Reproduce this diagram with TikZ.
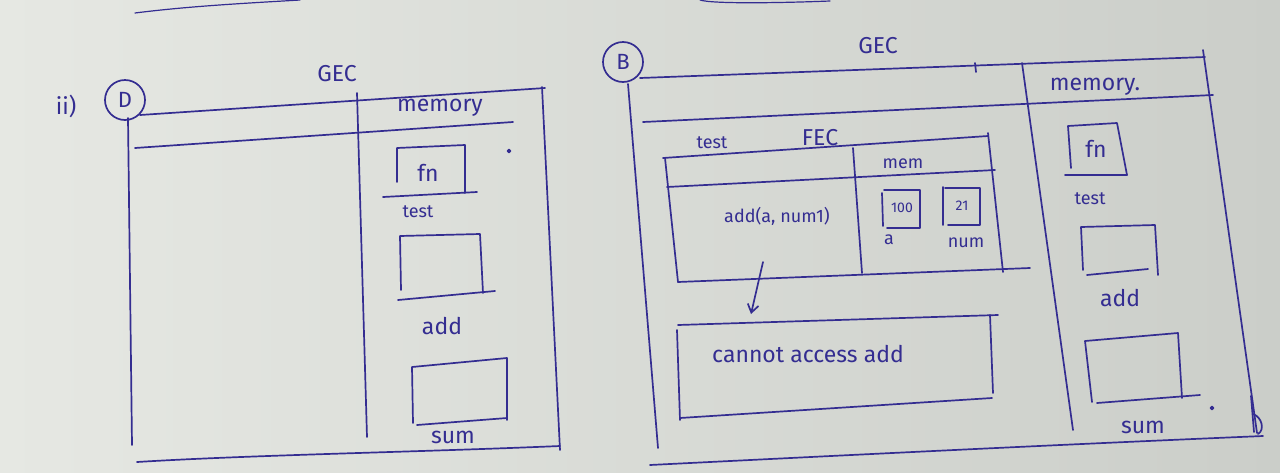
\documentclass[tikz,border=0pt]{standalone}
\usepackage{fontspec}
\usetikzlibrary{arrows.meta}
\newfontfamily\handfont{Fira Sans}
\definecolor{ink}{RGB}{52,45,145}
\definecolor{paperL}{RGB}{230,232,227}
\definecolor{paperR}{RGB}{203,206,201}
\tikzset{
  ink/.style={draw=ink, line width=1.7pt, line cap=round, line join=round},
  lbl/.style={text=ink, inner sep=0pt, font=\handfont\fontsize{23}{25}\selectfont},
  small/.style={text=ink, inner sep=0pt, font=\handfont\fontsize{18}{20}\selectfont},
  tiny/.style={text=ink, inner sep=0pt, font=\handfont\fontsize{14}{16}\selectfont},
  ring/.style={circle, draw=ink, line width=1.7pt, minimum size=40pt, inner sep=0pt, text=ink, font=\handfont\fontsize{22}{24}\selectfont}
}
\begin{document}
\begin{tikzpicture}[x=1pt,y=-1pt]
\shade[left color=paperL, right color=paperR] (0,0) rectangle (1280,472);
\useasboundingbox (0,0) rectangle (1280,472);

% remnants of lines at the top edge
\draw[ink, line width=1.2pt] (135,13) .. controls (190,6) and (250,3) .. (300,0);
\draw[ink, line width=1.2pt] (700,0) .. controls (712,4) and (780,3) .. (830,1);

% ---------------- left diagram ----------------
\node[lbl] (q) at (66,106) {ii)};
\node[ring] (cD) at (125,100) {D};
\node[lbl] (gecL) at (337,74) {GEC};
\draw[ink] (140,115) -- (545,88);           % top
\draw[ink] (128,118) -- (132,445);          % left
\draw[ink] (135,148) -- (513,122);          % header line
\draw[ink] (357,93) -- (367,437);           % divider
\draw[ink] (542,87) -- (560,450);           % right
\draw[ink] (137,462) .. controls (250,455) and (420,452) .. (560,446); % bottom
\node[lbl] (memL) at (440,108) {memory};
% fn box
\draw[ink] (397,182) -- (397,148) -- (465,145) -- (465,193);
\draw[ink] (383,197) -- (477,192);
\node[lbl] (fnL) at (428,173) {fn};
\node[small] (testL) at (418,212) {test};
% add box
\draw[ink] (401,290) -- (400,236) -- (480,234) -- (483,293);
\draw[ink] (398,300) -- (495,291);
\node[lbl] (addL) at (442,326) {add};
% sum box
\draw[ink] (413,423) -- (412,367) -- (507,358) -- (507,420);
\draw[ink] (417,425) -- (507,418);
\node[lbl] (sumL) at (453,437) {sum};
\fill[ink] (509,151) circle (1.5pt);

% ---------------- right diagram ----------------
\node[ring] (cB) at (623,62) {B};
\node[lbl] (gecR) at (878,46) {GEC};
\draw[ink] (640,78) -- (1205,57);           % top
\draw[ink] (975,63) -- (976,72);            % tick
\draw[ink] (628,84) -- (658,448);           % left
\draw[ink] (643,122) -- (1213,95);          % header line
\draw[ink] (1022,63) -- (1073,430);         % memory divider
\draw[ink] (1203,50) -- (1257,433);         % right
\draw[ink] (650,465) .. controls (850,455) and (1050,445) .. (1263,436); % bottom
\draw[ink] (1251,396) -- (1254,432);
\draw[ink] (1253,414) .. controls (1262,417) and (1265,430) .. (1258,434);
\node[lbl] (memR) at (1095,87) {memory.};
% fn box (memory)
\draw[ink] (1071,168) -- (1068,126) -- (1117,123) -- (1127,175);
\draw[ink] (1065,175) -- (1127,175);
\node[lbl] (fnR) at (1096,149) {fn};
\node[small] (testR) at (1090,199) {test};
% add box
\draw[ink] (1083,270) -- (1081,227) -- (1155,225) -- (1158,275);
\draw[ink] (1087,275) -- (1148,269);
\node[lbl] (addR) at (1120,298) {add};
% sum box
\draw[ink] (1092,402) -- (1085,341) -- (1178,333) -- (1182,398);
\draw[ink] (1097,403) -- (1200,395);
\node[lbl] (sumR) at (1143,427) {sum};
\fill[ink] (1212,408) circle (1.5pt);

% FEC
\node[small] (testF) at (712,143) {test};
\node[lbl] (fec) at (820,138) {FEC};
\draw[ink] (663,158) -- (988,136);          % top
\draw[ink] (665,158) -- (678,282);          % left
\draw[ink] (988,133) -- (1003,272);         % right
\draw[ink] (678,282) -- (1030,268);         % bottom
\draw[ink] (667,187) -- (995,170);          % header line
\draw[ink] (853,148) -- (862,273);          % divider
\node[small] (mem) at (903,164) {mem};
\node[small] (call) at (777,216) {add(a, num1)};
% 100 box
\draw[ink] (884,190) -- (920,190) -- (920,228) -- (887,228);
\draw[ink] (882,193) -- (883,226);
\node[tiny] (v100) at (902,208) {100};
\node[small] (la) at (889,240) {a};
% 21 box
\draw[ink] (945,188) -- (980,188) -- (980,225) -- (948,225);
\draw[ink] (943,187) -- (943,225);
\node[tiny] (v21) at (962,206) {21};
\node[small] (lnum) at (966,243) {num};

% arrow and "cannot access" box
\coordinate (arrS) at (763,262);
\coordinate (arrE) at (751,314);
\draw[ink, -{Straight Barb[length=8pt,width=11pt]}] (arrS) -- (arrE);
\draw[ink] (678,325) -- (998,315);
\draw[ink] (677,330) -- (680,420);
\draw[ink] (680,418) -- (992,398);
\draw[ink] (990,315) -- (993,393);
\node[lbl] (cannot) at (808,354) {cannot access add};
\end{tikzpicture}
\end{document}
